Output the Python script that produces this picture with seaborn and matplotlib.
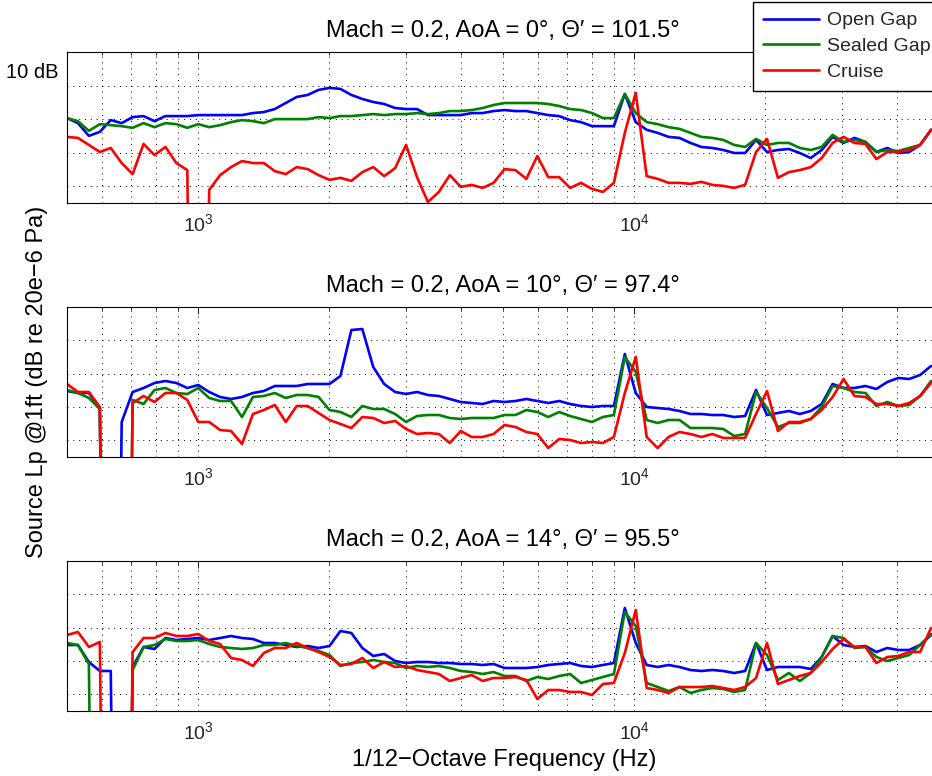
import numpy as np
import pandas as pd
import matplotlib
matplotlib.use("Agg")
import matplotlib.pyplot as plt
from matplotlib.lines import Line2D
from matplotlib.ticker import LogLocator, NullFormatter, FixedLocator, FixedFormatter
import seaborn as sns

# ---------------- data ----------------
# 1/12-octave band centre frequencies (re 1 kHz), bands -12 .. 67
band_index = np.arange(-12, 68)
freq = 1000.0 * 2.0 ** (band_index / 12.0)

OFF = -200.0  # level dropped below the plotted range

series_names = ["Open Gap", "Sealed Gap", "Cruise"]
series_colors = ["#0000ff", "#008000", "#ff0000"]

titles = [
    "Mach = 0.2, AoA = 0\u00b0, \u0398\u2032 = 101.5\u00b0",
    "Mach = 0.2, AoA = 10\u00b0, \u0398\u2032 = 97.4\u00b0",
    "Mach = 0.2, AoA = 14\u00b0, \u0398\u2032 = 95.5\u00b0",
]

# Panel 1: AoA = 0
p1_open = [80.3, 78.8, 75.0, 76.2, 79.7, 78.8, 80.6, 80.9, 79.4, 80.9, 80.9, 80.9,
           81.2, 81.2, 81.2, 81.2, 81.2, 81.8, 82.1, 83.0, 84.8, 86.6, 87.2, 88.7,
           89.3, 89.0, 87.2, 86.0, 85.1, 84.5, 83.3, 83.0, 83.0, 81.2, 81.2, 81.2,
           81.2, 81.8, 81.8, 82.4, 82.7, 82.4, 82.4, 81.8, 81.2, 80.9, 79.7, 79.1,
           77.9, 77.9, 77.9, 87.5, 79.1, 76.8, 75.9, 74.7, 74.4, 72.9, 71.7, 71.4,
           70.8, 69.9, 69.9, 73.8, 70.2, 70.8, 71.1, 69.9, 68.4, 70.8, 74.7, 72.9,
           74.4, 73.2, 70.2, 71.4, 69.9, 70.2, 72.3, 76.8]
p1_sealed = [80.3, 79.4, 76.5, 78.5, 78.2, 77.9, 77.4, 78.8, 77.6, 78.8, 78.5, 77.4,
             78.5, 77.6, 78.2, 79.1, 79.7, 79.4, 78.8, 80.0, 80.0, 80.0, 80.0, 80.6,
             80.3, 80.9, 80.9, 81.2, 81.5, 81.2, 81.5, 81.5, 81.8, 81.5, 81.8, 82.4,
             82.4, 82.7, 83.3, 84.2, 84.8, 84.8, 84.8, 84.8, 84.5, 83.9, 83.0, 82.7,
             81.8, 80.3, 80.3, 87.5, 81.8, 79.1, 78.5, 77.6, 77.1, 75.9, 74.7, 74.4,
             73.8, 72.3, 71.7, 74.1, 72.3, 72.9, 72.9, 71.4, 70.8, 71.7, 75.3, 73.2,
             73.8, 73.2, 70.2, 70.8, 70.5, 71.4, 72.3, 76.8]
p1_cruise = [74.7, 74.4, 72.3, 70.2, 71.4, 66.9, 63.6, 72.6, 69.3, 71.7, 66.9, 64.8,
             OFF, 58.9, 63.3, 65.7, 67.5, 66.9, 66.9, 64.5, 63.6, 65.7, 65.1, 63.3,
             61.9, 62.5, 61.6, 64.2, 65.7, 63.0, 65.4, 72.3, 62.7, 55.3, 58.3, 63.3,
             59.8, 60.4, 59.5, 61.0, 65.1, 64.8, 62.2, 69.0, 62.7, 62.7, 59.5, 61.0,
             59.2, 58.3, 61.0, 75.9, 87.8, 63.0, 62.2, 61.0, 61.0, 60.7, 61.3, 60.4,
             60.1, 59.5, 60.4, 70.2, 74.1, 62.5, 64.2, 64.8, 65.7, 68.4, 72.9, 74.7,
             72.9, 72.6, 68.1, 70.2, 70.2, 70.8, 72.3, 76.8]

# Panel 2: AoA = 10
p2_open = [74.8, 74.2, 74.2, 69.7, OFF, 65.5, 74.5, 75.7, 77.2, 77.8, 77.2, 75.7,
           76.6, 74.5, 73.0, 72.4, 73.0, 74.2, 74.8, 76.3, 76.3, 76.3, 76.9, 76.9,
           76.9, 79.3, 93.1, 93.4, 82.0, 76.9, 74.5, 73.9, 74.5, 73.6, 73.3, 72.4,
           71.5, 71.2, 70.9, 71.8, 71.5, 71.8, 72.4, 71.8, 71.2, 71.8, 70.9, 70.3,
           70.0, 70.3, 70.3, 85.9, 74.2, 70.0, 69.7, 69.4, 68.8, 67.9, 67.9, 67.6,
           67.6, 67.0, 67.3, 75.1, 67.6, 68.2, 68.8, 67.9, 68.8, 70.9, 76.9, 75.7,
           75.7, 76.3, 75.4, 77.5, 78.7, 78.4, 79.6, 82.3]
p2_sealed = [75.1, 74.2, 72.7, 69.4, OFF, OFF, 72.1, 70.9, 75.1, 75.7, 74.2, 73.9,
             75.7, 72.7, 71.8, 71.8, 67.0, 73.0, 73.3, 74.2, 72.7, 73.6, 73.6, 73.0,
             69.1, 68.5, 67.0, 70.3, 69.4, 69.4, 67.9, 65.5, 67.3, 67.6, 67.6, 66.7,
             66.4, 66.7, 66.7, 66.7, 67.6, 67.6, 69.1, 68.5, 67.0, 68.5, 67.3, 66.4,
             65.5, 67.0, 67.6, 85.0, 80.5, 66.1, 65.2, 66.1, 66.1, 63.7, 63.7, 63.7,
             63.4, 61.3, 61.9, 74.5, 69.7, 64.0, 65.2, 65.2, 66.4, 70.0, 76.3, 75.7,
             74.5, 74.2, 70.3, 71.5, 70.3, 70.6, 73.3, 77.8]
p2_cruise = [76.9, 74.5, 74.5, 70.0, OFF, OFF, 71.2, 73.3, 71.5, 74.2, 74.2, 72.1,
             65.5, 65.5, 63.1, 62.8, 58.9, 67.9, 69.1, 70.6, 65.5, 70.3, 70.3, 68.2,
             66.1, 64.9, 63.7, 67.0, 66.7, 65.2, 65.8, 63.4, 61.9, 62.2, 61.9, 59.2,
             62.8, 61.0, 61.0, 61.9, 64.6, 64.0, 62.5, 61.9, 57.7, 60.4, 60.1, 59.2,
             59.5, 59.2, 61.0, 74.2, 85.0, 61.0, 57.7, 61.0, 62.5, 61.9, 61.0, 61.9,
             60.7, 60.7, 60.7, 67.9, 74.8, 62.8, 65.5, 65.5, 66.4, 69.1, 73.0, 78.4,
             73.3, 73.0, 70.9, 70.9, 70.3, 71.2, 73.3, 77.2]

# Panel 3: AoA = 14
p3_open = [74.8, 74.8, 69.7, 67.0, 67.0, OFF, 68.2, 74.2, 73.6, 76.9, 76.3, 76.6,
           76.9, 76.3, 76.9, 77.5, 76.9, 76.6, 75.4, 75.4, 74.8, 74.2, 74.5, 73.9,
           74.5, 79.0, 78.4, 73.9, 71.5, 72.1, 70.0, 69.4, 69.7, 69.7, 69.4, 69.4,
           69.1, 69.1, 68.8, 69.1, 67.9, 67.9, 67.9, 68.2, 68.8, 69.1, 69.4, 68.5,
           68.2, 68.8, 69.4, 85.9, 75.4, 68.8, 68.2, 68.8, 68.2, 67.3, 67.0, 67.3,
           67.0, 66.4, 67.0, 75.4, 67.3, 68.2, 68.2, 68.2, 67.6, 71.2, 77.5, 74.8,
           74.2, 74.5, 72.7, 73.9, 73.3, 73.3, 74.8, 77.8]
p3_sealed = [75.4, 74.8, 69.1, OFF, OFF, OFF, 67.3, 74.2, 74.8, 76.6, 76.0, 76.0,
             76.3, 75.1, 74.2, 73.9, 73.6, 73.9, 74.8, 74.8, 75.4, 74.5, 73.9, 73.0,
             71.8, 68.5, 69.4, 69.7, 70.3, 69.7, 69.4, 67.9, 68.5, 68.2, 68.5, 67.9,
             67.0, 66.7, 66.1, 66.7, 65.5, 65.5, 64.0, 65.2, 64.6, 65.5, 66.1, 63.4,
             64.3, 65.2, 66.1, 84.7, 80.5, 63.4, 62.2, 61.0, 62.2, 60.4, 61.3, 61.9,
             61.6, 60.7, 61.3, 75.4, 71.8, 64.3, 66.4, 64.0, 66.4, 71.2, 77.5, 76.9,
             73.9, 74.2, 71.2, 70.0, 70.9, 71.8, 74.8, 78.1]
p3_cruise = [77.8, 78.7, 74.2, 75.7, OFF, OFF, 72.7, 76.9, 76.9, 78.4, 77.5, 77.5,
             78.1, 76.0, 75.1, 70.9, 70.3, 68.5, 72.4, 73.9, 73.9, 75.4, 73.9, 72.7,
             71.2, 68.8, 69.1, 70.9, 67.9, 69.7, 68.2, 68.5, 67.3, 66.7, 66.1, 64.0,
             64.9, 65.8, 64.0, 64.9, 64.9, 65.2, 64.3, 58.6, 61.3, 61.3, 60.7, 60.7,
             59.8, 63.1, 63.4, 72.4, 85.3, 61.9, 61.3, 60.4, 62.2, 62.2, 62.2, 62.5,
             61.9, 61.3, 62.2, 64.9, 75.4, 63.1, 64.3, 65.5, 66.4, 69.7, 73.6, 76.6,
             74.2, 74.2, 69.4, 71.2, 71.5, 72.7, 72.7, 79.9]

panels = [
    (p1_open, p1_sealed, p1_cruise),
    (p2_open, p2_sealed, p2_cruise),
    (p3_open, p3_sealed, p3_cruise),
]

xlabel = "1/12\u2212Octave Frequency (Hz)"
ylabel = "Source Lp @1ft (dB re 20e\u22126 Pa)"
scale_label = "10 dB"

# ---------------- style ----------------
sns.set_style("white")
plt.rcParams["font.family"] = ["Liberation Sans", "DejaVu Sans"]
plt.rcParams["axes.linewidth"] = 0.8

W, H = 932, 776
fig = plt.figure(figsize=(W / 100, H / 100), dpi=100)

# axes boxes in pixels: (left, top, bottom); right edge beyond the image (cropped)
boxes = [(67, 52, 203), (67, 307, 457), (67, 561, 711)]
right_px = 939

for i, (left, top, bottom) in enumerate(boxes):
    ax = fig.add_axes([left / W, 1 - bottom / H, (right_px - left) / W, (bottom - top) / H])
    frames = []
    for name, vals in zip(series_names, panels[i]):
        frames.append(pd.DataFrame({"freq": freq, "level": vals, "series": name}))
    df = pd.concat(frames, ignore_index=True)
    ax.set_xscale("log")
    sns.lineplot(data=df, x="freq", y="level", hue="series", hue_order=series_names,
                 palette=series_colors, estimator=None, sort=False, linewidth=1.9,
                 legend=False, ax=ax)
    ax.set_xlim(500, 50000)
    ax.set_ylim(55, 100)
    ax.set_xlabel("")
    ax.set_ylabel("")
    ax.xaxis.set_major_locator(FixedLocator([1e3, 1e4]))
    ax.xaxis.set_major_formatter(FixedFormatter([r"$\mathregular{10^{3}}$", r"$\mathregular{10^{4}}$"]))
    ax.xaxis.set_minor_locator(LogLocator(base=10, subs=np.arange(2, 10), numticks=20))
    ax.xaxis.set_minor_formatter(NullFormatter())
    ax.yaxis.set_major_locator(FixedLocator([60, 70, 80, 90]))
    ax.set_yticklabels([])
    ax.tick_params(which="both", direction="in", top=True, right=True, color="k", width=0.6)
    ax.tick_params(which="major", length=5, labelsize=14, pad=7)
    ax.tick_params(which="minor", length=2.5)
    grid_kw = dict(color="k", linestyle=(0, (1, 5)), linewidth=0.7)
    ax.grid(True, which="both", axis="x", **grid_kw)
    ax.grid(True, which="major", axis="y", **grid_kw)
    for sp in ax.spines.values():
        sp.set_color("k")
        sp.set_linewidth(0.8)
    ax.set_title(titles[i], fontsize=17, pad=11, color="k")

fig.text(58 / W, 1 - 72 / H, scale_label, ha="right", va="center", fontsize=14.5, color="k")
fig.text(37 / W, 1 - 382 / H, ylabel, rotation=90, ha="center", va="center", fontsize=17, color="k")
fig.text(504 / W, 1 - 760 / H, xlabel, ha="center", va="center", fontsize=17, color="k")

handles = [Line2D([], [], color=c, linewidth=1.9) for c in series_colors]
leg = fig.legend(handles, series_names, loc="upper left",
                 bbox_to_anchor=(753 / W, 1 - 2 / H), bbox_transform=fig.transFigure,
                 borderaxespad=0, frameon=True, fancybox=False, shadow=False,
                 edgecolor="k", framealpha=1, fontsize=14, handlelength=2.9,
                 handletextpad=0.4, labelspacing=0.42, borderpad=0.5)
leg.get_frame().set_linewidth(1.0)

fig.savefig("out.png", dpi=100)
